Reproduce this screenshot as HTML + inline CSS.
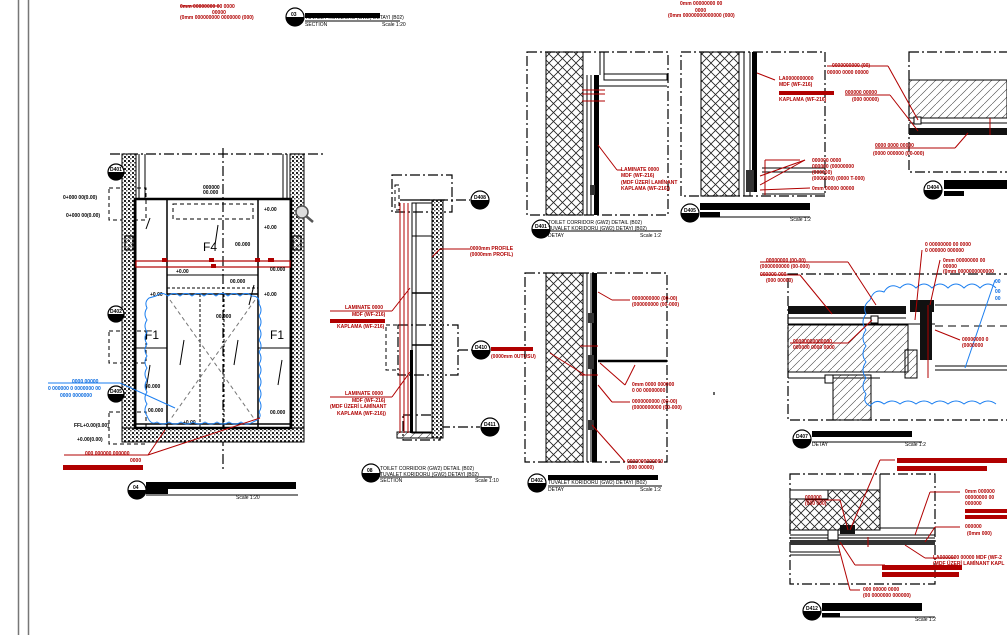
<!DOCTYPE html>
<html><head><meta charset="utf-8">
<style>
html,body{margin:0;padding:0;background:#fff;}
svg{display:block;}
.r{fill:#b00000;font-family:"Liberation Sans",sans-serif;font-size:5px;font-weight:bold;}
.b{fill:#000;font-family:"Liberation Sans",sans-serif;font-size:5px;}
.bl{fill:#0a6be0;font-family:"Liberation Sans",sans-serif;font-size:5px;font-weight:bold;}
</style></head><body>
<svg width="1007" height="635" viewBox="0 0 1007 635" xmlns="http://www.w3.org/2000/svg">
<defs>
<pattern id="xh" width="9" height="9" patternUnits="userSpaceOnUse">
<path d="M0 0L9 9M9 0L0 9" stroke="#222" stroke-width="0.8"/>
</pattern>
<pattern id="dg" width="8" height="8" patternUnits="userSpaceOnUse">
<path d="M0 8L8 0" stroke="#444" stroke-width="0.6"/>
</pattern>
<pattern id="cc" width="4" height="4" patternUnits="userSpaceOnUse">
<rect width="4" height="4" fill="#fff"/>
<rect x="0" y="0" width="2" height="2" fill="#222"/>
<rect x="2" y="2" width="1.5" height="1.5" fill="#555"/>
</pattern>
</defs>
<rect width="1007" height="635" fill="#fff"/>
<line x1="18.5" y1="0" x2="18.5" y2="635" stroke="#777" stroke-width="1.5"/>
<line x1="28.5" y1="0" x2="28.5" y2="635" stroke="#777" stroke-width="1.5"/>

<g fill="none" stroke="#000" stroke-width="1.2" stroke-dasharray="10,3,2,3">
<!-- elevation 04 -->
<line x1="110" y1="154" x2="325" y2="154"/>
<line x1="223" y1="148" x2="223" y2="472"/>
<!-- section 08 boxes -->
<rect x="392" y="175" width="60" height="37"/>
<rect x="398" y="325" width="60" height="50"/>
<rect x="403" y="415" width="37" height="25"/>
<line x1="420" y1="200" x2="470" y2="200"/>
<line x1="458" y1="350" x2="478" y2="350"/>
<line x1="440" y1="427" x2="480" y2="427"/>
<rect x="527" y="52" width="141" height="163"/>
<rect x="681" y="52" width="144" height="144"/>
<rect x="909" y="52" width="110" height="120"/>
<rect x="525" y="273" width="142" height="189"/>
<rect x="788" y="274" width="230" height="146"/>
<rect x="790" y="474" width="145" height="110"/>
<line x1="940" y1="460" x2="1007" y2="460"/>
<line x1="714" y1="392" x2="714" y2="395"/>
</g>
<!-- dashed boxes elevation -->
<g fill="none" stroke="#000" stroke-width="1" stroke-dasharray="4,3">
<rect x="109" y="188" width="37" height="32"/>
<rect x="109" y="331" width="37" height="32"/>
<rect x="109" y="412" width="37" height="32"/>
<rect x="173" y="204" width="80" height="15"/>
<rect x="386" y="325" width="14" height="45"/>
<rect x="395" y="185" width="4" height="25"/>
</g>

<!-- ===== ELEVATION 04 ===== -->
<rect x="122" y="154" width="14" height="288" fill="url(#cc)" stroke="#000"/>
<rect x="290" y="154" width="14" height="288" fill="url(#cc)" stroke="#000"/>
<rect x="122" y="428" width="182" height="14" fill="url(#cc)" stroke="#000"/>
<rect x="125" y="236" width="8" height="14" fill="url(#dg)" stroke="#000"/>
<rect x="293" y="236" width="8" height="14" fill="url(#dg)" stroke="#000"/>
<g stroke="#000" fill="none">
<rect x="135" y="199" width="156" height="229" stroke-width="2.5"/>
<line x1="139" y1="154" x2="139" y2="199"/><line x1="145" y1="154" x2="145" y2="199"/>
<line x1="283" y1="154" x2="283" y2="199"/><line x1="287" y1="154" x2="287" y2="199"/>
<line x1="167" y1="199" x2="167" y2="428" stroke-width="1.5"/>
<line x1="258" y1="199" x2="258" y2="428" stroke-width="1.5"/>
<line x1="167" y1="275" x2="258" y2="275"/>
<line x1="167" y1="294" x2="258" y2="294" stroke-width="1.5"/>
<line x1="167" y1="288" x2="258" y2="288" stroke-dasharray="3,2"/>
<line x1="136" y1="348" x2="167" y2="348"/>
<line x1="258" y1="348" x2="290" y2="348"/>
<line x1="136" y1="424" x2="290" y2="424" stroke-width="1.5"/>
<line x1="200" y1="294" x2="200" y2="428" stroke-dasharray="3,2"/>
<line x1="224" y1="294" x2="224" y2="428" stroke-dasharray="3,2"/>
<line x1="170" y1="300" x2="255" y2="420" stroke-dasharray="4,3" stroke="#777"/>
<line x1="255" y1="300" x2="170" y2="420" stroke-dasharray="4,3" stroke="#777"/>
<line x1="150" y1="218" x2="146" y2="229" stroke-width="1"/>
<path d="M218 225 l-3 20 M254 285 l-5 20 M184 340 l-4 25 M238 340 l-4 25 M282 360 l-4 25 M150 365 l-4 25"/>
</g>
<rect x="136" y="261" width="154" height="6" fill="none" stroke="#b00000" stroke-width="1.2"/>
<g fill="#b00000"><rect x="162" y="258" width="5" height="4"/><rect x="209" y="258" width="5" height="4"/><rect x="255" y="258" width="5" height="4"/><rect x="268" y="258" width="6" height="4"/><rect x="211" y="264" width="5" height="4"/></g>
<text x="203" y="251" font-family="Liberation Sans" font-size="12">F4</text>
<text x="145" y="339" font-family="Liberation Sans" font-size="12">F1</text>
<text x="270" y="339" font-family="Liberation Sans" font-size="12">F1</text>
<text x="203" y="189" class="b" font-weight="bold">000000</text><text x="203" y="194" class="b" font-weight="bold">00.000</text>
<text x="63" y="199" class="b" font-weight="bold">0+000 00(0.00)</text>
<text x="66" y="217" class="b" font-weight="bold">0+000 00(0.00)</text>
<text x="264" y="211" class="b" font-weight="bold">+0.00</text><text x="264" y="229" class="b" font-weight="bold">+0.00</text>
<text x="235" y="246" class="b" font-weight="bold">00.000</text>
<text x="230" y="283" class="b" font-weight="bold">00.000</text>
<text x="176" y="273" class="b" font-weight="bold">+0.00</text>
<text x="150" y="296" class="b" font-weight="bold">+0.00</text><text x="264" y="296" class="b" font-weight="bold">+0.00</text>
<text x="216" y="318" class="b" font-weight="bold">00.000</text>
<text x="270" y="271" class="b" font-weight="bold">00.000</text>
<text x="145" y="388" class="b" font-weight="bold">00.000</text>
<text x="148" y="412" class="b" font-weight="bold">00.000</text>
<text x="270" y="414" class="b" font-weight="bold">00.000</text>
<text x="183" y="424" class="b" font-weight="bold">+0.00</text>
<text x="74" y="427" class="b" font-weight="bold">FFL+0.00(0.00)</text>
<text x="77" y="441" class="b" font-weight="bold">+0.00(0.00)</text>
<!-- blue cloud -->
<path d="M156 296 q6-5 12 0 q6-5 12 0 q6-5 12 0 q6-5 12 0 q6-5 12 0 q6-5 12 0 q6-5 12 0 q6-5 12 0 q8 0 7 8 q4 6 0 12 q4 6 0 12 q4 6 0 12 q4 6 0 12 q4 6 0 12 q4 6 0 12 q4 6 0 12 q4 6 0 12 q4 6 0 12 q4 6-6 10 q-6 4-12 0 q-6 4-12 0 q-6 4-12 0 q-6 4-12 0 q-6 4-12 0 q-6 4-12 0 q-6 4-12 0 q-6 4-12 0 q-6 4-10-6 q-4-6 0-12 q-4-6 0-12 q-4-6 0-12 q-4-6 0-12 q-4-6 0-12 q-4-6 0-12 q-4-6 0-12 q-4-6 0-12 q-4-6 0-12 q-3-6 2-10z" fill="none" stroke="#1a7ef0" stroke-width="1"/>
<line x1="48" y1="383" x2="120" y2="383" stroke="#1a7ef0"/>
<line x1="120" y1="383" x2="175" y2="408" stroke="#1a7ef0"/>
<text x="72" y="383" class="bl">0000 00000</text>
<text x="48" y="390" class="bl">0 000000 0 0000000 00</text>
<text x="60" y="397" class="bl">0000 0000000</text>
<!-- red leader bottom -->
<line x1="64" y1="455" x2="148" y2="455" stroke="#b00000"/>
<line x1="148" y1="455" x2="165" y2="430" stroke="#b00000"/><line x1="148" y1="455" x2="260" y2="418" stroke="#b00000"/>
<text x="85" y="455" class="r">000 000000 000000</text><text x="130" y="462" class="r">0000</text>
<rect x="63" y="465" width="80" height="5" fill="#b00000"/>
<!-- callouts -->
<g fill="#fff" stroke="#000" stroke-width="1.2">
<circle cx="116" cy="172" r="8"/><circle cx="116" cy="314" r="8"/><circle cx="116" cy="394" r="8"/>
<circle cx="137" cy="490" r="9"/><circle cx="371" cy="473" r="9"/><circle cx="295" cy="17" r="9"/>
<circle cx="480" cy="200" r="9"/><circle cx="481" cy="350" r="9"/><circle cx="490" cy="427" r="9"/>
<circle cx="541" cy="229" r="9"/><circle cx="690" cy="213" r="9"/><circle cx="933" cy="190" r="9"/>
<circle cx="537" cy="483" r="9"/><circle cx="802" cy="439" r="9"/><circle cx="812" cy="611" r="9"/>
</g>
<g fill="#000">
<path d="M108 172 h16 a8 8 0 0 1-16 0z"/><path d="M108 314 h16 a8 8 0 0 1-16 0z"/><path d="M108 394 h16 a8 8 0 0 1-16 0z"/>
<path d="M128 490 h18 a9 9 0 0 1-18 0z"/><path d="M362 473 h18 a9 9 0 0 1-18 0z"/><path d="M286 17 h18 a9 9 0 0 1-18 0z"/>
<path d="M471 200 h18 a9 9 0 0 1-18 0z"/><path d="M472 350 h18 a9 9 0 0 1-18 0z"/><path d="M481 427 h18 a9 9 0 0 1-18 0z"/>
<path d="M532 229 h18 a9 9 0 0 1-18 0z"/><path d="M681 213 h18 a9 9 0 0 1-18 0z"/><path d="M924 190 h18 a9 9 0 0 1-18 0z"/>
<path d="M528 483 h18 a9 9 0 0 1-18 0z"/><path d="M793 439 h18 a9 9 0 0 1-18 0z"/><path d="M803 611 h18 a9 9 0 0 1-18 0z"/>
</g>
<g class="b" font-weight="bold" font-size="6">
<text x="110" y="171">D401</text><text x="110" y="313">D402</text><text x="110" y="393">D405</text>
<text x="133" y="489">04</text><text x="367" y="472">08</text><text x="291" y="16">03</text>
<text x="474" y="199">D408</text><text x="475" y="349">D410</text><text x="484" y="426">D411</text>
<text x="535" y="228">D401</text><text x="684" y="212">D405</text><text x="927" y="189">D404</text>
<text x="531" y="482">D402</text><text x="796" y="438">D407</text><text x="806" y="610">D412</text>
</g>
<!-- title blocks -->
<g fill="#000">
<rect x="146" y="482" width="150" height="7"/><rect x="146" y="489" width="22" height="5"/>
<rect x="305" y="13" width="75" height="5"/>
<rect x="700" y="203" width="110" height="7"/><rect x="700" y="212" width="20" height="5"/>
<rect x="944" y="180" width="63" height="9"/><rect x="944" y="191" width="20" height="5"/>
<rect x="548" y="475" width="110" height="5"/>
<rect x="812" y="431" width="100" height="6"/>
<rect x="822" y="603" width="100" height="8"/><rect x="822" y="613" width="18" height="4"/>
</g>
<g stroke="#000" stroke-width="1">
<line x1="146" y1="495" x2="298" y2="495"/><line x1="380" y1="477" x2="492" y2="477"/><line x1="305" y1="21" x2="400" y2="21"/>
<line x1="548" y1="231" x2="662" y2="231"/><line x1="700" y1="217" x2="810" y2="217"/>
<line x1="548" y1="486" x2="662" y2="486"/><line x1="812" y1="442" x2="922" y2="442"/><line x1="822" y1="617" x2="935" y2="617"/>
</g>
<text x="380" y="470" class="b">TOILET CORRIDOR (GW2) DETAIL (B02)</text>
<text x="380" y="476" class="b">TUVALET KORIDORU (GW2) DETAYI (B02)</text>
<text x="380" y="482" class="b">SECTION</text><text x="475" y="482" class="b">Scale 1:10</text>
<text x="236" y="499" class="b">Scale 1:20</text>
<text x="305" y="19" class="b">TUVALET KORIDORU (GW2) DETAYI (B02)</text>
<text x="305" y="26" class="b">SECTION</text><text x="382" y="26" class="b">Scale 1:20</text>
<text x="548" y="224" class="b">TOILET CORRIDOR (GW2) DETAIL (B02)</text>
<text x="548" y="230" class="b">TUVALET KORIDORU (GW2) DETAYI (B02)</text>
<text x="548" y="237" class="b">DETAY</text><text x="640" y="237" class="b">Scale 1:2</text>
<text x="790" y="221" class="b">Scale 1:2</text>
<text x="548" y="484" class="b">TUVALET KORIDORU (GW2) DETAYI (B02)</text>
<text x="548" y="491" class="b">DETAY</text><text x="640" y="491" class="b">Scale 1:2</text>
<text x="812" y="446" class="b">DETAY</text><text x="905" y="446" class="b">Scale 1:2</text>
<text x="915" y="621" class="b">Scale 1:2</text>
<text x="180" y="8" class="r">0mm 00000000 00 0000</text><text x="212" y="14" class="r">00000</text>
<text x="180" y="19" class="r">(0mm 000000000 0000000 (000)</text>
<line x1="180" y1="6" x2="220" y2="6" stroke="#b00000"/>
<text x="680" y="5" class="r">0mm 00000000 00</text><text x="695" y="12" class="r">0000</text>
<text x="668" y="17" class="r">(0mm 00000000000000 (000)</text>

<!-- ===== SECTION 08 ===== -->
<rect x="432" y="200" width="11" height="238" fill="url(#cc)" stroke="#000"/>
<rect x="397" y="432" width="35" height="6" fill="url(#dg)" stroke="#000"/>
<g stroke="#000" fill="none">
<line x1="400" y1="200" x2="445" y2="200" stroke-width="1.2"/>
<rect x="412" y="203" width="20" height="230"/>
<line x1="412" y1="236" x2="432" y2="236"/><line x1="412" y1="293" x2="432" y2="293" stroke-width="1.5"/>
<line x1="412" y1="345" x2="432" y2="345" stroke-width="1.5"/>
<line x1="416" y1="203" x2="416" y2="433"/>
</g>
<rect x="410" y="350" width="3" height="83" fill="#000"/>
<g stroke="#b00000" stroke-width="1"><line x1="400" y1="203" x2="400" y2="433"/><line x1="404" y1="203" x2="404" y2="433"/><line x1="408" y1="203" x2="408" y2="433"/></g>
<line x1="440" y1="249" x2="470" y2="249" stroke="#b00000"/><line x1="440" y1="249" x2="432" y2="257" stroke="#b00000"/>
<text x="470" y="250" class="r">0000mm PROFILE</text><text x="470" y="256" class="r">(0000mm PROFIL)</text>
<line x1="330" y1="311" x2="392" y2="311" stroke="#b00000"/><line x1="392" y1="311" x2="410" y2="288" stroke="#b00000"/>
<text x="345" y="309" class="r">LAMINATE 0000</text><text x="352" y="316" class="r">MDF (WF-216)</text>
<rect x="330" y="319" width="55" height="4" fill="#b00000"/><text x="337" y="328" class="r">KAPLAMA (WF-216)</text>
<line x1="330" y1="397" x2="392" y2="397" stroke="#b00000"/><line x1="392" y1="397" x2="410" y2="372" stroke="#b00000"/>
<text x="345" y="395" class="r">LAMINATE 0000</text><text x="352" y="402" class="r">MDF (WF-216)</text>
<text x="330" y="408" class="r">(MDF ÜZERİ LAMİNANT</text><text x="337" y="415" class="r">KAPLAMA (WF-216))</text>
<rect x="491" y="347" width="42" height="4" fill="#b00000"/><text x="491" y="358" class="r">(0000mm 0UTUSU)</text>

<!-- ===== D401 ===== -->
<rect x="546" y="52" width="37" height="163" fill="url(#xh)" stroke="#000"/>
<g stroke="#000" fill="none"><line x1="587" y1="75" x2="587" y2="215"/><line x1="591" y1="75" x2="591" y2="215"/>
<line x1="600" y1="52" x2="600" y2="75"/><line x1="604" y1="52" x2="604" y2="75"/>
<rect x="604" y="74" width="63" height="6"/><line x1="598" y1="86" x2="667" y2="86"/></g>
<rect x="594" y="75" width="5" height="140" fill="#000"/>
<rect x="590" y="185" width="5" height="10" fill="#333"/>
<g stroke="#b00000"><line x1="582" y1="90" x2="605" y2="90"/><line x1="582" y1="94" x2="605" y2="94"/><line x1="582" y1="101" x2="605" y2="101"/></g>
<line x1="598" y1="145" x2="617" y2="170" stroke="#b00000"/><line x1="617" y1="170" x2="622" y2="170" stroke="#b00000"/>
<text x="621" y="171" class="r">LAMINATE 0000</text><text x="621" y="177" class="r">MDF (WF-216)</text>
<text x="621" y="184" class="r">(MDF ÜZERİ LAMİNANT</text><text x="621" y="190" class="r">KAPLAMA (WF-216))</text>

<!-- ===== D405 ===== -->
<rect x="701" y="52" width="38" height="144" fill="url(#xh)" stroke="#000"/>
<g stroke="#000" fill="none"><line x1="744" y1="52" x2="744" y2="196"/><line x1="750" y1="52" x2="750" y2="196"/>
<line x1="762" y1="168" x2="825" y2="168"/><line x1="762" y1="172" x2="825" y2="172"/><line x1="762" y1="194" x2="825" y2="194"/></g>
<rect x="752" y="52" width="5" height="140" fill="#000"/>
<rect x="746" y="170" width="8" height="22" fill="#333"/>
<g stroke="#b00000"><line x1="757" y1="73" x2="775" y2="80"/><line x1="765" y1="160" x2="800" y2="160"/><line x1="760" y1="176" x2="805" y2="160"/><line x1="760" y1="185" x2="805" y2="160"/><line x1="760" y1="190" x2="810" y2="188"/><line x1="765" y1="160" x2="765" y2="195"/></g>
<text x="779" y="80" class="r">LA0000000000</text><text x="779" y="86" class="r">MDF (WF-216)</text>
<rect x="779" y="91" width="55" height="4" fill="#b00000"/><text x="779" y="101" class="r">KAPLAMA (WF-216)</text>
<text x="812" y="162" class="r">000000 0000</text><text x="812" y="168" class="r">000000 (00000000</text><text x="812" y="174" class="r">(000000)</text><text x="812" y="180" class="r">(0000000) (0000 T-000)</text><text x="812" y="190" class="r">0mm 00000 00000</text>

<!-- ===== D404 ===== -->
<rect x="909" y="80" width="98" height="38" fill="url(#dg)" stroke="#000"/>
<g stroke="#000" fill="none"><line x1="909" y1="123" x2="1007" y2="123"/></g>
<rect x="909" y="128" width="98" height="7" fill="#111"/>
<rect x="914" y="117" width="7" height="7" fill="#fff" stroke="#000"/>
<g stroke="#b00000"><line x1="827" y1="66" x2="888" y2="66"/><line x1="888" y1="66" x2="918" y2="120"/><line x1="845" y1="95" x2="890" y2="95"/><line x1="890" y1="95" x2="918" y2="131"/><line x1="875" y1="148" x2="955" y2="148"/><line x1="955" y1="148" x2="968" y2="133"/><line x1="990" y1="118" x2="990" y2="135"/></g>
<text x="832" y="67" class="r">0000000000 (00)</text><text x="827" y="74" class="r">00000 0000 00000</text>
<text x="845" y="94" class="r">000000 00000</text><text x="852" y="101" class="r">(000 00000)</text>
<text x="875" y="147" class="r">0000 0000 00000</text><text x="873" y="155" class="r">(0000 000000 (00-000)</text>

<!-- ===== D402 ===== -->
<rect x="546" y="273" width="37" height="189" fill="url(#xh)" stroke="#000"/>
<g stroke="#000" fill="none"><line x1="587" y1="273" x2="587" y2="462"/><line x1="591" y1="273" x2="591" y2="462"/><line x1="598" y1="361" x2="667" y2="361" stroke-width="2.5"/></g>
<rect x="592" y="273" width="5" height="189" fill="#000"/>
<rect x="588" y="313" width="6" height="10" fill="#333"/><rect x="588" y="355" width="6" height="14" fill="#333"/><rect x="588" y="420" width="6" height="10" fill="#333"/>
<g stroke="#b00000"><line x1="598" y1="292" x2="612" y2="300"/><line x1="612" y1="300" x2="630" y2="300"/><line x1="580" y1="346" x2="598" y2="346"/><line x1="580" y1="375" x2="598" y2="375"/><line x1="600" y1="363" x2="625" y2="385"/><line x1="625" y1="385" x2="635" y2="365"/><line x1="598" y1="385" x2="612" y2="402"/><line x1="612" y1="402" x2="630" y2="402"/><line x1="592" y1="425" x2="625" y2="462"/><line x1="550" y1="353" x2="585" y2="375"/></g>
<text x="632" y="300" class="r">0000000000 (00-00)</text><text x="632" y="306" class="r">(000000000 (00-000)</text>
<text x="632" y="386" class="r">0mm 0000 000000</text><text x="632" y="392" class="r">0 00 00000000</text>
<text x="632" y="403" class="r">0000000000 (00-00)</text><text x="632" y="409" class="r">(0000000000 (00-000)</text>
<text x="627" y="463" class="r">0000000000000</text><text x="627" y="469" class="r">(000 00000)</text>

<!-- ===== D407 ===== -->
<rect x="788" y="306" width="118" height="8" fill="#111"/>
<g stroke="#000" fill="none"><line x1="788" y1="318" x2="906" y2="318"/><line x1="788" y1="324" x2="935" y2="324"/><line x1="788" y1="372" x2="880" y2="372"/><line x1="788" y1="378" x2="880" y2="378"/><line x1="935" y1="366" x2="1007" y2="366"/><line x1="935" y1="370" x2="1007" y2="370"/><line x1="935" y1="305" x2="1007" y2="305"/><line x1="935" y1="326" x2="1007" y2="326" stroke-dasharray="8,5"/></g>
<rect x="788" y="325" width="120" height="47" fill="url(#dg)" stroke="#000"/>
<rect x="833" y="375" width="38" height="45" fill="url(#dg)" stroke="#000"/>
<rect x="905" y="350" width="12" height="28" fill="url(#dg)" stroke="#000"/>
<rect x="920" y="305" width="12" height="55" fill="#111"/>
<rect x="910" y="300" width="24" height="12" fill="#111"/>
<rect x="871" y="316" width="7" height="7" fill="#fff" stroke="#000"/>
<rect x="825" y="375" width="8" height="8" fill="#fff" stroke="#000"/>
<path d="M870 300 q4-12 14-8 q6-10 16-4 q8-8 16 0 q8-8 16 0 q8-8 16 0 q8-8 16 0 q8-8 16 0 q8-8 16 0 M870 300 q-8 6-4 14 q-6 8 0 16 q-6 8 0 16 q-6 8 0 16 q-6 8 0 16 q-6 8 0 16 q-4 8 4 12 q6-8 14-2 q8-6 16 0 q8-6 16 0 q8-6 16 0 q8-6 16 0 q8-6 16 0 q8-6 16 0 q8-6 16 0" fill="none" stroke="#1a7ef0" stroke-width="1"/>
<g stroke="#b00000"><line x1="760" y1="262" x2="848" y2="262"/><line x1="848" y1="262" x2="876" y2="305"/><line x1="760" y1="275" x2="800" y2="275"/><line x1="800" y1="275" x2="832" y2="314"/><line x1="790" y1="343" x2="848" y2="343"/><line x1="848" y1="343" x2="872" y2="320"/><line x1="922" y1="250" x2="915" y2="320"/><line x1="940" y1="260" x2="930" y2="305"/><line x1="935" y1="330" x2="960" y2="340"/><line x1="928" y1="305" x2="928" y2="378"/></g>
<line x1="995" y1="280" x2="965" y2="368" stroke="#1a7ef0"/>
<text x="766" y="262" class="r">00000000 (00-00)</text><text x="760" y="268" class="r">(0000000000 (00-000)</text>
<text x="760" y="276" class="r">000000 000</text><text x="766" y="282" class="r">(000 00000)</text>
<text x="793" y="343" class="r">00000000000000</text><text x="793" y="349" class="r">000000 0000 0000</text>
<text x="925" y="246" class="r">0 00000000 00 0000</text><text x="925" y="252" class="r">0 000000 000000</text>
<text x="943" y="262" class="r">0mm 00000000 00</text><text x="943" y="268" class="r">00000</text><text x="943" y="273" class="r">(0mm 0000000000000</text>
<text x="962" y="341" class="r">00000000 0</text><text x="962" y="347" class="r">(0000000</text>
<text x="995" y="283" class="bl">00</text><text x="995" y="293" class="bl">00</text><text x="995" y="300" class="bl">00</text>

<!-- ===== D412 ===== -->
<rect x="790" y="490" width="90" height="40" fill="url(#xh)" stroke="#000"/>
<rect x="790" y="490" width="38" height="9" fill="#fff" stroke="#000"/>
<g stroke="#000" fill="none"><line x1="880" y1="474" x2="880" y2="528"/><line x1="880" y1="528" x2="935" y2="528"/><line x1="790" y1="535" x2="935" y2="535"/><line x1="790" y1="538" x2="935" y2="538"/><line x1="790" y1="552" x2="840" y2="552"/><line x1="790" y1="555" x2="840" y2="555"/></g>
<rect x="790" y="540" width="145" height="5" fill="#333"/>
<rect x="840" y="525" width="15" height="9" fill="#111"/>
<rect x="828" y="530" width="10" height="10" fill="#fff" stroke="#000"/>
<g stroke="#b00000"><line x1="895" y1="460" x2="880" y2="460"/><line x1="880" y1="460" x2="850" y2="530"/><line x1="805" y1="500" x2="840" y2="500"/><line x1="840" y1="500" x2="848" y2="530"/><line x1="960" y1="492" x2="930" y2="492"/><line x1="930" y1="492" x2="915" y2="535"/><line x1="960" y1="527" x2="935" y2="527"/><line x1="935" y1="527" x2="925" y2="542"/><line x1="955" y1="558" x2="925" y2="558"/><line x1="925" y1="558" x2="905" y2="545"/><line x1="885" y1="565" x2="855" y2="565"/><line x1="855" y1="565" x2="840" y2="542"/><line x1="860" y1="590" x2="850" y2="590"/><line x1="850" y1="590" x2="838" y2="545"/><line x1="868" y1="537" x2="868" y2="547"/></g>
<rect x="897" y="458" width="110" height="5" fill="#b00000"/><rect x="897" y="466" width="90" height="5" fill="#b00000"/>
<text x="805" y="499" class="r">000000</text><text x="805" y="505" class="r">(000 000)</text>
<text x="965" y="493" class="r">0mm 000000</text><text x="965" y="499" class="r">00000000 00</text><text x="965" y="505" class="r">000000</text>
<rect x="965" y="509" width="42" height="4" fill="#b00000"/><rect x="965" y="515" width="42" height="4" fill="#b00000"/>
<text x="965" y="528" class="r">000000</text><text x="967" y="535" class="r">(0mm 000)</text>
<text x="933" y="559" class="r">LA0000000 00000 MDF (WF-2</text><text x="933" y="565" class="r">(MDF ÜZERİ LAMİNANT KAPL</text>
<rect x="882" y="565" width="80" height="5" fill="#b00000"/><rect x="882" y="572" width="77" height="5" fill="#b00000"/>
<text x="863" y="591" class="r">000 00000 0000</text><text x="863" y="597" class="r">(00 0000000 000000)</text>

<!-- magnifier -->
<circle cx="302" cy="212" r="6" fill="#ddd" stroke="#555" stroke-width="1.5"/>
<line x1="306" y1="216" x2="313" y2="222" stroke="#555" stroke-width="2.5"/>
</svg>
</body></html>
